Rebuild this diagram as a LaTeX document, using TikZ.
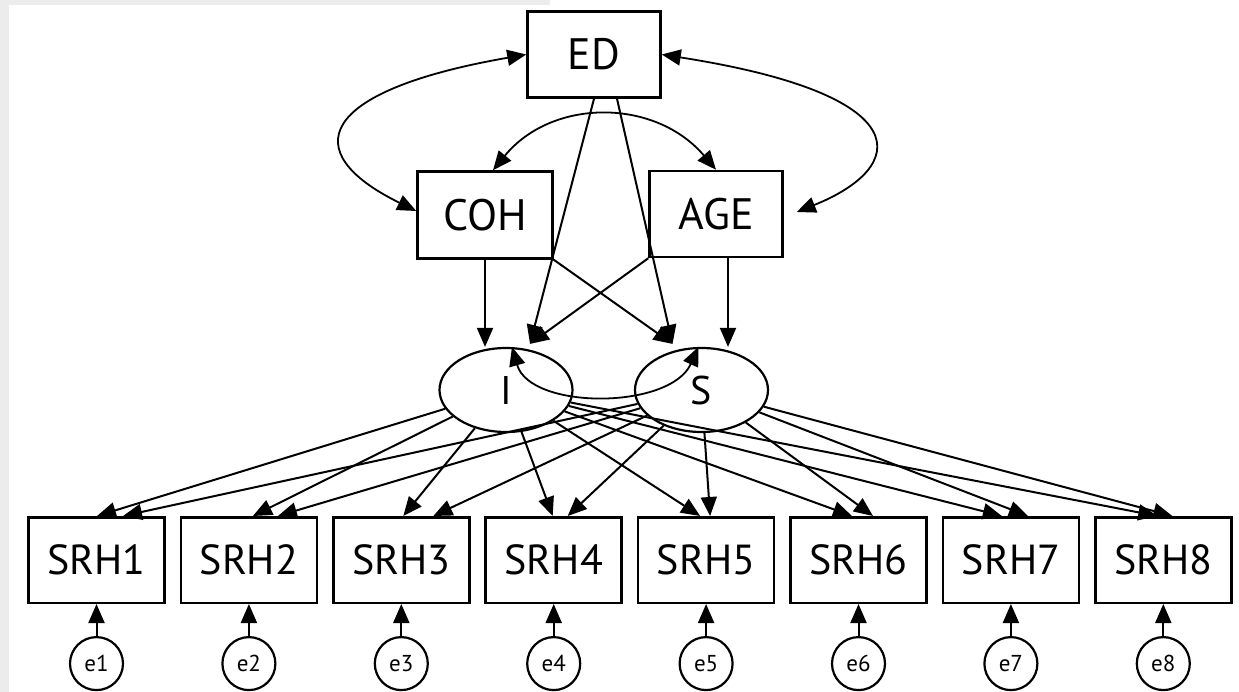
\documentclass[tikz,border=0pt]{standalone}
\usepackage{fontspec}
\setmainfont{PT Sans}
\usetikzlibrary{arrows.meta,positioning,shapes.geometric}

\begin{document}
\begin{tikzpicture}[x=1pt,y=-1pt,>={Triangle[length=19pt,width=16pt]},node distance=13.9pt,
  var/.style={draw,line width=2.5pt,minimum width=133pt,minimum height=86pt,inner sep=0pt,font=\fontsize{44}{48}\selectfont},
  obs/.style={draw,line width=2.5pt,minimum width=136pt,minimum height=85.5pt,inner sep=0pt,font=\fontsize{42}{46}\selectfont},
  lat/.style={draw,ellipse,line width=2.2pt,minimum width=133pt,minimum height=84pt,inner sep=0pt,font=\fontsize{40}{44}\selectfont},
  err/.style={draw,circle,line width=2.2pt,minimum size=53pt,inner sep=0pt,font=\fontsize{23}{25}\selectfont},
  reg/.style={->,line width=2pt},
  cov/.style={<->,line width=1.8pt}]
  \useasboundingbox (0,0) rectangle (1239,692);
  \fill[gray!15] (0,0) rectangle (9,692);
  \fill[gray!15] (0,0) rectangle (550,5);
  % covariates
  \node[var] (ed) at (594,54.5) {ED};
  \node[var,minimum width=135pt,minimum height=87pt] (coh) at (485,215) {COH};
  \node[var] (age) at (716,214) {AGE};
  % growth factors
  \node[lat] (i) at (506,390) {I};
  \node[lat] (s) at (701.5,390) {S};
  % indicators
  \node[obs] (srh1) at (96.5,560) {SRH1};
  \node[obs,right=of srh1] (srh2) {SRH2};
  \node[obs,right=of srh2] (srh3) {SRH3};
  \node[obs,right=of srh3] (srh4) {SRH4};
  \node[obs,right=of srh4] (srh5) {SRH5};
  \node[obs,right=of srh5] (srh6) {SRH6};
  \node[obs,right=of srh6] (srh7) {SRH7};
  \node[obs,right=of srh7] (srh8) {SRH8};
  \foreach \k in {1,...,8}
    \node[err,below=32pt of srh\k] (e\k) {\raisebox{-5pt}{e\k}};
  % covariances
  \draw[cov] (ed.west) .. controls (317,91) and (296,152) .. ([yshift=4pt]coh.west);
  \draw[cov] (ed.east) .. controls (921,95) and (909,167) .. ([xshift=13pt,yshift=2pt]age.east);
  \draw[cov] ([xshift=8pt]coh.north) .. controls (552,98) and (655,98) .. (age.north);
  \draw[cov] ([xshift=6pt]i.north) .. controls (530,410) and (670,410) .. ([xshift=-3pt]s.north);
  % regressions on I and S
  \coordinate (agefoot) at ([xshift=12pt]age.south);
  \coordinate (itip) at ([xshift=24pt,yshift=3pt]i.north);
  \coordinate (stip) at ([xshift=-29pt,yshift=3pt]s.north);
  \draw[reg] (coh.south) -- (coh.south |- i.north);
  \draw[reg] (agefoot) -- (agefoot |- s.north);
  \draw[reg] (ed.south) -- (itip);
  \draw[reg] ([xshift=23pt]ed.south) -- (stip);
  \draw[reg] (age.south west) -- (itip);
  \draw[reg] (coh.south east) -- (stip);
  % loadings and errors
  \foreach \k/\a/\b in {1/0.5/26.5,2/4/29,3/2/32,4/-1/14,5/-6/4,6/-6.5/14.5,7/-9/17,8/-6/9} {
    \draw[reg] (i) -- ([xshift=\a pt]srh\k.north);
    \draw[reg] (s) -- ([xshift=\b pt]srh\k.north);
    \draw[reg] (e\k) -- (srh\k);
  }
\end{tikzpicture}
\end{document}
